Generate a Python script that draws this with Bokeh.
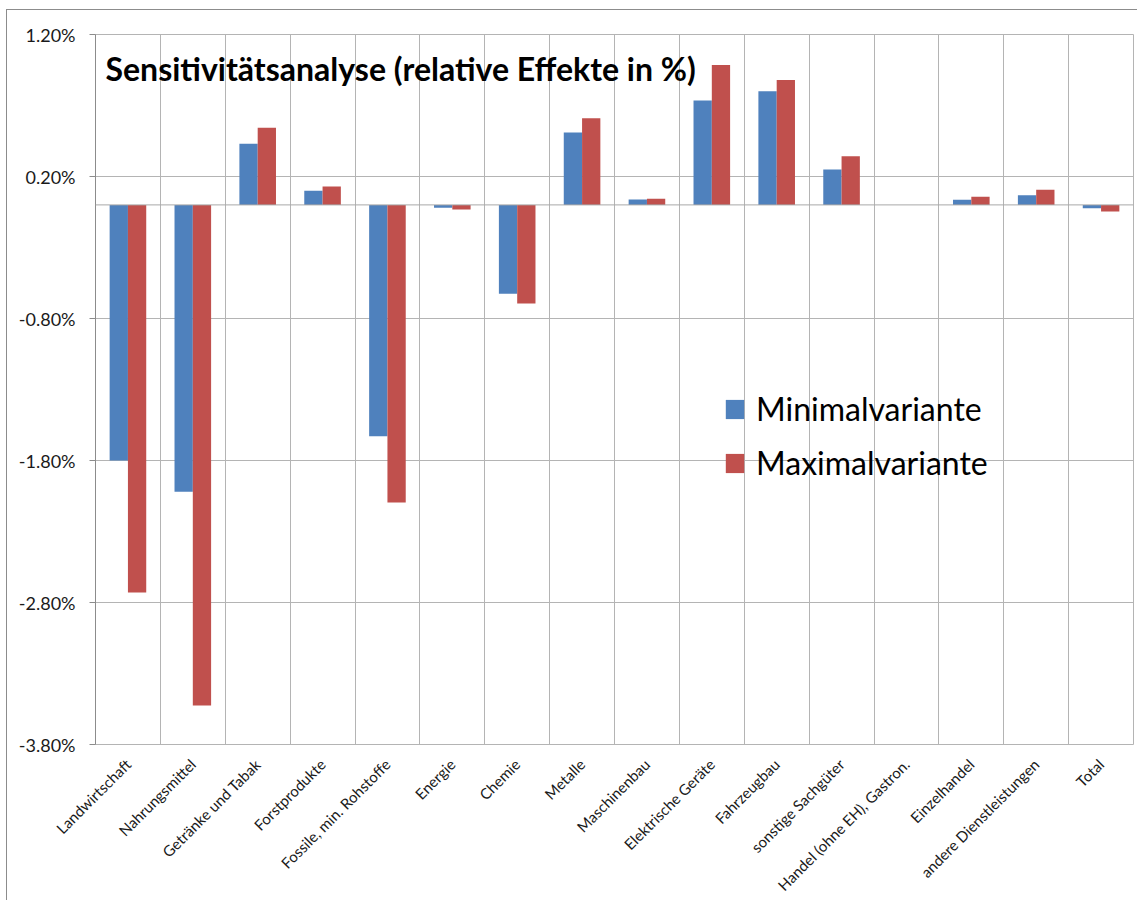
import math
from bokeh.plotting import figure
from bokeh.models import (Range1d, FixedTicker, PrintfTickFormatter, Span, Label,
                          Legend, LegendItem, ColumnDataSource)
from bokeh.embed import file_html
from bokeh.resources import INLINE

categories = ["Landwirtschaft", "Nahrungsmittel", "Getränke und Tabak", "Forstprodukte",
              "Fossile, min. Rohstoffe", "Energie", "Chemie", "Metalle", "Maschinenbau",
              "Elektrische Geräte", "Fahrzeugbau", "sonstige Sachgüter",
              "Handel (ohne EH), Gastron.", "Einzelhandel", "andere Dienstleistungen", "Total"]
minimal = [-1.80, -2.02, 0.43, 0.10, -1.63, -0.02, -0.625, 0.51, 0.038, 0.735, 0.80, 0.25,
           0.0, 0.037, 0.068, -0.023]
maximal = [-2.73, -3.525, 0.543, 0.13, -2.095, -0.033, -0.695, 0.61, 0.043, 0.985, 0.88, 0.343,
           0.0, 0.057, 0.106, -0.047]
y_ticks = [-3.8, -2.8, -1.8, -0.8, 0.2, 1.2]
series_names = ["Minimalvariante", "Maximalvariante"]
colors = ["#4F81BD", "#C0504D"]

FONT = "Lato"
GRID = "#b4b4b4"
Y_MIN, Y_MAX = -3.8, 1.2

n = len(categories)
centers = [i + 0.5 for i in range(n)]
bar_w = 0.282

p = figure(frame_width=1038, frame_height=710, output_backend="svg", toolbar_location=None,
           x_range=Range1d(0, n), y_range=Range1d(Y_MIN, Y_MAX),
           min_border_left=88, min_border_right=4, min_border_top=24, min_border_bottom=20)
p.styles = {"margin-left": "6px", "margin-top": "9px",
            "border-top": "1px solid #8c8c8c", "border-left": "1px solid #8c8c8c"}
p.background_fill_color = "white"
p.border_fill_color = "white"
p.outline_line_color = GRID

src = ColumnDataSource(dict(xmin=[c - bar_w / 2 for c in centers],
                            xmax=[c + bar_w / 2 for c in centers],
                            minimal=minimal, maximal=maximal))
r_min = p.vbar(x="xmin", top="minimal", bottom=0, width=bar_w, source=src,
               fill_color=colors[0], line_color=None)
r_max = p.vbar(x="xmax", top="maximal", bottom=0, width=bar_w, source=src,
               fill_color=colors[1], line_color=None)

# grids
p.xgrid.ticker = FixedTicker(ticks=list(range(n + 1)))
p.xgrid.grid_line_color = GRID
p.ygrid.ticker = FixedTicker(ticks=y_ticks)
p.ygrid.grid_line_color = GRID
p.add_layout(Span(location=0, dimension="width", line_color="#a8a8a8", line_width=1))

# y axis
p.yaxis.ticker = FixedTicker(ticks=y_ticks)
p.yaxis.formatter = PrintfTickFormatter(format="%.2f%%")
p.yaxis.axis_line_color = "#8c8c8c"
p.yaxis.major_tick_line_color = "#8c8c8c"
p.yaxis.major_tick_in = 0
p.yaxis.major_tick_out = 6
p.yaxis.minor_tick_line_color = None
p.yaxis.major_label_text_font = FONT
p.yaxis.major_label_text_font_size = "18px"
p.yaxis.major_label_text_color = "#1a1a1a"
p.yaxis.major_label_standoff = 14

# x axis
p.xaxis.ticker = FixedTicker(ticks=centers)
p.xaxis.major_label_overrides = {c: name for c, name in zip(centers, categories)}
p.xaxis.major_label_orientation = math.pi / 4
p.xaxis.axis_line_color = None
p.xaxis.major_tick_line_color = None
p.xaxis.minor_tick_line_color = None
p.xaxis.major_label_text_font = FONT
p.xaxis.major_label_text_font_size = "15px"
p.xaxis.major_label_text_color = "#1a1a1a"
p.xaxis.major_label_standoff = 11

# title inside plot
p.add_layout(Label(x=0.154, y=0.96, text="Sensitivitätsanalyse (relative Effekte in %)",
                   text_font=FONT, text_font_size="32px", text_font_style="bold",
                   text_color="black", text_baseline="alphabetic", text_align="left"))

legend = Legend(items=[LegendItem(label=series_names[0], renderers=[r_min]),
                       LegendItem(label=series_names[1], renderers=[r_max])],
                location=(628, 262), orientation="vertical")
legend.border_line_color = None
legend.background_fill_alpha = 0
legend.padding = 0
legend.margin = 0
legend.glyph_width = 23
legend.glyph_height = 24
legend.label_standoff = 10
legend.label_text_font = FONT
legend.label_text_font_size = "32px"
legend.label_text_color = "black"
legend.spacing = 15
p.add_layout(legend)

open("out.html", "w").write(file_html(p, INLINE))
